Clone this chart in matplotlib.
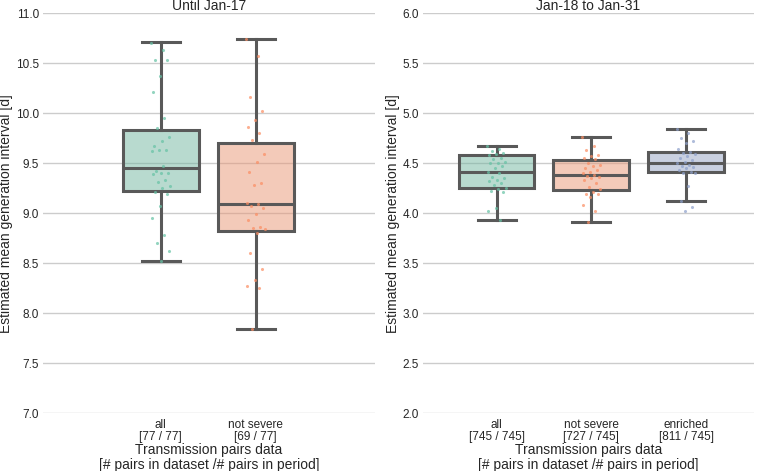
import matplotlib
matplotlib.use("Agg")
import matplotlib.pyplot as plt
import matplotlib.colors as mcolors
import colorsys
import numpy as np

plt.rcParams['font.family'] = ['Liberation Sans', 'DejaVu Sans']
plt.rcParams['text.color'] = '#262626'
plt.rcParams['axes.labelcolor'] = '#262626'
plt.rcParams['xtick.color'] = '#262626'
plt.rcParams['ytick.color'] = '#262626'

# --- donnees ---
titres = ["Until Jan-17", "Jan-18 to Jan-31"]

cats_gauche = ["all\n[77 / 77]", "not severe\n[69 / 77]"]
cats_droite = ["all\n[745 / 745]", "not severe\n[727 / 745]",
               "enriched\n[811 / 745]"]

# stats des boites : (bas moustache, Q1, mediane, Q3, haut moustache)
stats_gauche = [(8.52, 9.22, 9.45, 9.83, 10.71),
                (7.84, 8.82, 9.09, 9.70, 10.74)]
stats_droite = [(3.93, 4.25, 4.41, 4.58, 4.67),
                (3.91, 4.23, 4.38, 4.53, 4.76),
                (4.12, 4.41, 4.50, 4.61, 4.84)]

# points individuels (estimations)
pts_g_all = [10.70, 10.63, 10.53, 10.53, 10.37, 10.21, 9.95, 9.85, 9.76,
             9.72, 9.67, 9.63, 9.63, 9.62, 9.47, 9.42, 9.40, 9.40, 9.39,
             9.33, 9.31, 9.27, 9.25, 9.21, 9.19, 9.07, 8.95, 8.78, 8.70,
             8.62, 8.52]
pts_g_ns = [10.74, 10.57, 10.16, 10.02, 9.93, 9.86, 9.80, 9.73, 9.59,
            9.51, 9.41, 9.30, 9.28, 9.10, 9.09, 9.07, 9.05, 8.99, 8.93,
            8.86, 8.85, 8.84, 8.80, 8.60, 8.44, 8.33, 8.27, 8.25, 7.84]
pts_d_all = [4.67, 4.64, 4.62, 4.60, 4.59, 4.58, 4.55, 4.54, 4.51, 4.50,
             4.50, 4.47, 4.45, 4.41, 4.40, 4.36, 4.35, 4.33, 4.32, 4.30,
             4.28, 4.25, 4.24, 4.22, 4.21, 4.05, 4.02, 3.93]
pts_d_ns = [4.76, 4.67, 4.63, 4.58, 4.57, 4.55, 4.54, 4.50, 4.48, 4.47,
            4.45, 4.43, 4.41, 4.40, 4.38, 4.37, 4.36, 4.35, 4.33, 4.30,
            4.26, 4.24, 4.21, 4.19, 4.19, 4.16, 4.08, 4.02, 3.91]
pts_d_en = [4.84, 4.80, 4.75, 4.72, 4.70, 4.64, 4.61, 4.60, 4.59, 4.57,
            4.55, 4.53, 4.51, 4.50, 4.48, 4.47, 4.46, 4.45, 4.43, 4.41,
            4.40, 4.40, 4.27, 4.12, 4.06, 4.02]

couleurs = ['#66c2a5', '#fc8d62', '#8da0cb']  # Set2


def desature(couleur, prop=0.75):
    """Desature une couleur comme le fait seaborn."""
    r, g, b = mcolors.to_rgb(couleur)
    h, l, s = colorsys.rgb_to_hls(r, g, b)
    return colorsys.hls_to_rgb(h, l, s * prop)


def panneau(ax, stats, points, cats, titre, ylim, xlim):
    """Trace un panneau boites + points."""
    boites = []
    for (bas, q1, med, q3, haut), lab in zip(stats, cats):
        boites.append({'whislo': bas, 'q1': q1, 'med': med, 'q3': q3,
                       'whishi': haut, 'fliers': [], 'label': lab})
    pos = np.arange(len(stats))
    gris = '#595959'
    bp = ax.bxp(boites, positions=pos, widths=0.8, capwidths=0.4,
                patch_artist=True, showfliers=False,
                boxprops=dict(edgecolor=gris, linewidth=2.2),
                whiskerprops=dict(color=gris, linewidth=2.2),
                capprops=dict(color=gris, linewidth=2.2),
                medianprops=dict(color=gris, linewidth=2.2))
    for i, b in enumerate(bp['boxes']):
        b.set_facecolor(mcolors.to_rgba(desature(couleurs[i]), 0.5))
        b.set_zorder(2)

    for i, vals in enumerate(points):
        n = len(vals)
        # petit decalage horizontal deterministe (jitter)
        dx = ((np.arange(n) * 0.618034) % 1 - 0.5) * 0.2
        ax.scatter(pos[i] + dx, vals, s=5, color=couleurs[i], alpha=0.7,
                   linewidths=0, zorder=3)

    graduations = np.arange(ylim[0], ylim[1] + 0.01, 0.5)
    ax.set_ylim(*ylim)
    ax.set_xlim(*xlim)
    ax.set_yticks(graduations)
    ax.set_yticklabels([f"{v:.1f}" for v in graduations])
    ax.set_xticks(pos)
    ax.set_xticklabels(cats, fontsize=8.5, linespacing=1.0)
    ax.tick_params(axis='y', labelsize=8.5, length=0, pad=3)
    ax.tick_params(axis='x', length=0, pad=4)
    ax.grid(axis='y', color='#cccccc', linewidth=1.0, zorder=0)
    ax.set_axisbelow(True)
    for s in ax.spines.values():
        s.set_visible(False)
    ax.set_title(titre, fontsize=10, pad=0.6)
    ax.set_xlabel("Transmission pairs data\n"
                  "[# pairs in dataset /# pairs in period]",
                  fontsize=10, labelpad=0, linespacing=1.15)
    ax.set_ylabel("Estimated mean generation interval [d]", fontsize=10,
                  labelpad=2)


fig = plt.figure(figsize=(7.57, 4.71), dpi=100)
ax1 = fig.add_axes([0.0568, 0.123, 0.4386, 0.849])
ax2 = fig.add_axes([0.5588, 0.123, 0.4373, 0.849])

panneau(ax1, stats_gauche, [pts_g_all, pts_g_ns], cats_gauche, titres[0],
        (7.0, 11.0), (-1.237, 2.258))
panneau(ax2, stats_droite, [pts_d_all, pts_d_ns, pts_d_en], cats_droite,
        titres[1], (2.0, 6.0), (-0.776, 2.717))

plt.savefig("out.png", dpi=100)
